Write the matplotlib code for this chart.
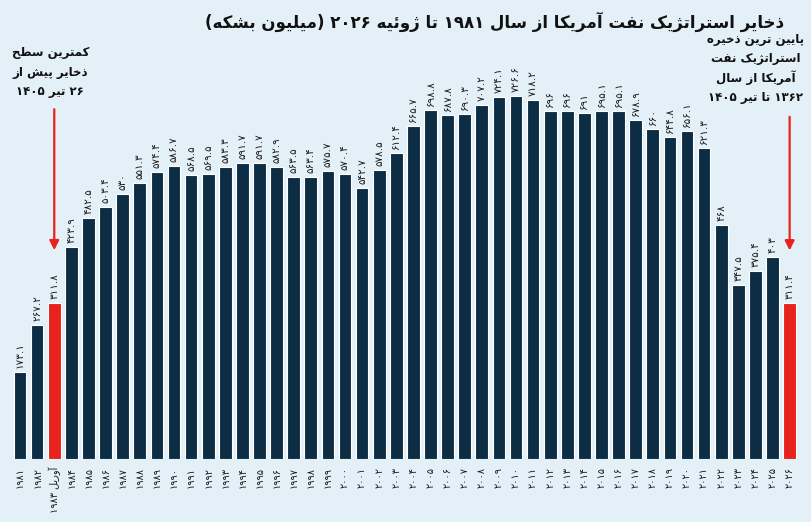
import re
import numpy as np
import matplotlib.pyplot as plt

# data (million barrels)
years = ['1981', '1982', 'آوریل 1983'] + [str(y) for y in range(1984, 2027)]
values = [173.1, 267.2, 311.8, 423.9, 482.5, 503.4, 530, 551.3, 574.4, 586.7,
          568.5, 569.5, 583.3, 591.7, 591.7, 582.9, 563.5, 563.4, 575.7, 570.4,
          542.7, 578.5, 612.4, 665.7, 698.8, 687.8, 690.3, 707.2, 724.1, 726.6,
          718.2, 696, 696, 691, 695.1, 695.1, 678.9, 660, 644.8, 656.1,
          621.3, 468, 347.5, 375.4, 403, 311.4]
highlight = [2, 45]

title = 'ذخایر استراتژیک نفت آمریکا از سال 1981 تا ژوئیه 2026 (میلیون بشکه)'
note_left = ['کمترین سطح', 'ذخایر پیش از', '26 تیر 1405']
note_right = ['پایین ترین ذخیره', 'استراتژیک نفت', 'آمریکا از سال', '1362 تا تیر 1405']

# --- minimal Persian shaping (matplotlib has no complex text layout) ---
FORMS = {
    'ا': (0xFE8D, 0xFE8E, None, None), 'آ': (0xFE81, 0xFE82, None, None),
    'ب': (0xFE8F, 0xFE90, 0xFE91, 0xFE92), 'پ': (0xFB56, 0xFB57, 0xFB58, 0xFB59),
    'ت': (0xFE95, 0xFE96, 0xFE97, 0xFE98), 'ث': (0xFE99, 0xFE9A, 0xFE9B, 0xFE9C),
    'ج': (0xFE9D, 0xFE9E, 0xFE9F, 0xFEA0), 'چ': (0xFB7A, 0xFB7B, 0xFB7C, 0xFB7D),
    'ح': (0xFEA1, 0xFEA2, 0xFEA3, 0xFEA4), 'خ': (0xFEA5, 0xFEA6, 0xFEA7, 0xFEA8),
    'د': (0xFEA9, 0xFEAA, None, None), 'ذ': (0xFEAB, 0xFEAC, None, None),
    'ر': (0xFEAD, 0xFEAE, None, None), 'ز': (0xFEAF, 0xFEB0, None, None),
    'ژ': (0xFB8A, 0xFB8B, None, None),
    'س': (0xFEB1, 0xFEB2, 0xFEB3, 0xFEB4), 'ش': (0xFEB5, 0xFEB6, 0xFEB7, 0xFEB8),
    'ص': (0xFEB9, 0xFEBA, 0xFEBB, 0xFEBC), 'ط': (0xFEC1, 0xFEC2, 0xFEC3, 0xFEC4),
    'ع': (0xFEC9, 0xFECA, 0xFECB, 0xFECC), 'ف': (0xFED1, 0xFED2, 0xFED3, 0xFED4),
    'ق': (0xFED5, 0xFED6, 0xFED7, 0xFED8), 'ک': (0xFB8E, 0xFB8F, 0xFB90, 0xFB91),
    'گ': (0xFB92, 0xFB93, 0xFB94, 0xFB95), 'ل': (0xFEDD, 0xFEDE, 0xFEDF, 0xFEE0),
    'م': (0xFEE1, 0xFEE2, 0xFEE3, 0xFEE4), 'ن': (0xFEE5, 0xFEE6, 0xFEE7, 0xFEE8),
    'ه': (0xFEE9, 0xFEEA, 0xFEEB, 0xFEEC), 'و': (0xFEED, 0xFEEE, None, None),
    'ی': (0xFBFC, 0xFBFD, 0xFBFE, 0xFBFF), 'ئ': (0xFE89, 0xFE8A, 0xFE8B, 0xFE8C),
}
FA_DIGITS = str.maketrans('0123456789', '۰۱۲۳۴۵۶۷۸۹')


def fa(s):
    s = s.translate(FA_DIGITS)
    out = []
    for i, c in enumerate(s):
        if c not in FORMS:
            out.append(c)
            continue
        prev = s[i - 1] if i > 0 else ''
        nxt = s[i + 1] if i + 1 < len(s) else ''
        jp = prev in FORMS and FORMS[prev][2] is not None
        jn = nxt in FORMS and FORMS[c][2] is not None
        iso, fin, ini, med = FORMS[c]
        g = med if (jp and jn) else fin if jp else ini if jn else iso
        out.append(chr(g))
    tokens = re.findall(r'[۰-۹.]+|.', ''.join(out))
    swap = {'(': ')', ')': '('}
    return ''.join(swap.get(t, t) for t in reversed(tokens))


bg = '#e4f0f7'
navy = '#0c2d44'
red = '#e8221d'
plt.rcParams['font.family'] = ['DejaVu Sans']

fig = plt.figure(figsize=(8.11, 5.22), dpi=100, facecolor=bg)
ax = fig.add_axes([0.0142, 0.121, 0.970, 0.766])
ax.set_facecolor(bg)

x = np.arange(len(values))
colors = [red if i in highlight else navy for i in x]
ax.bar(x, values, width=0.74, color=colors, edgecolor='white', linewidth=0.8)

for xi, v in zip(x, values):
    lab = f'{v:g}'.translate(FA_DIGITS)
    ax.text(xi, v + 8, lab, rotation=90, ha='center', va='bottom',
            fontsize=7.5, color='#1b1b1b')

ax.set_xlim(-0.5, len(values) - 0.5)
ax.set_ylim(0, 800)
ax.set_xticks(x)
ax.set_xticklabels([fa(y) for y in years], rotation=90, fontsize=7,
                   color='#1b1b1b', va='top')
ax.tick_params(axis='x', length=0, pad=6)
ax.set_yticks([])
for s in ax.spines.values():
    s.set_visible(False)

fig.text(0.61, 0.958, fa(title), ha='center', va='center', fontsize=12,
         fontweight='bold', color='#111111')

for k, line in enumerate(note_left):
    fig.text(0.062, 0.90 - k * 0.038, fa(line), ha='center', va='center',
             fontsize=8.5, fontweight='bold', color='#111111')
for k, line in enumerate(note_right):
    fig.text(0.932, 0.925 - k * 0.037, fa(line), ha='center', va='center',
             fontsize=8.5, fontweight='bold', color='#111111')

# red arrows towards the two highlighted bars
ax.annotate('', xy=(2, values[2] + 100), xytext=(2, 705),
            arrowprops=dict(arrowstyle='-|>', color=red, lw=1.6, mutation_scale=14))
ax.annotate('', xy=(45, values[45] + 100), xytext=(45, 690),
            arrowprops=dict(arrowstyle='-|>', color=red, lw=1.6, mutation_scale=14))

fig.savefig('out.png', dpi=100, facecolor=bg)
